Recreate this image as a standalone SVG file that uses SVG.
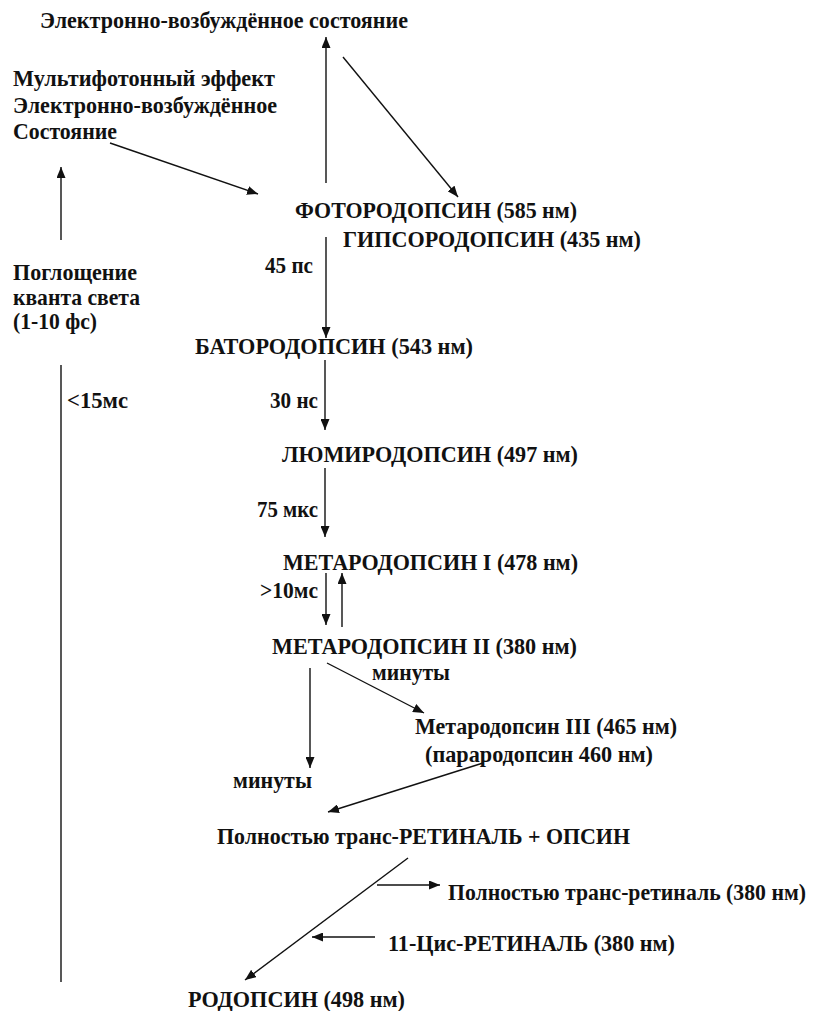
<svg xmlns="http://www.w3.org/2000/svg" width="814" height="1011" viewBox="0 0 814 1011">
<style>
text{font-weight:bold;font-size:23px;fill:#111}
.c line{stroke:#111;stroke-width:1.4;fill:none}
.a{marker-end:url(#ah)}
</style>
<defs>
<marker id="ah" markerUnits="userSpaceOnUse" markerWidth="11" markerHeight="9" refX="11" refY="4.5" orient="auto">
<path d="M0,0 L11,4.5 L0,9 Z" fill="#111"/>
</marker>
</defs>
<rect width="814" height="1011" fill="#fff"/>
<g id="connectors" class="c">
<line class="a" x1="326" y1="183" x2="326" y2="37"/>
<line class="a" x1="343" y1="57" x2="458" y2="197"/>
<line class="a" x1="110" y1="143" x2="258" y2="194"/>
<line class="a" x1="61" y1="240" x2="61" y2="167"/>
<line x1="61" y1="365" x2="61" y2="982"/>
<line class="a" x1="326" y1="237" x2="326" y2="338"/>
<line class="a" x1="325" y1="360" x2="325" y2="430"/>
<line class="a" x1="325" y1="468" x2="325" y2="537"/>
<line class="a" x1="326" y1="573" x2="326" y2="625"/>
<line class="a" x1="342" y1="627" x2="342" y2="573"/>
<line class="a" x1="310" y1="668" x2="310" y2="768"/>
<line class="a" x1="327" y1="663" x2="424" y2="713"/>
<line class="a" x1="483" y1="763" x2="328" y2="812"/>
<line class="a" x1="408" y1="858" x2="245" y2="980"/>
<line class="a" x1="377" y1="885" x2="440" y2="885"/>
<line class="a" x1="375" y1="937" x2="312" y2="937"/>
</g>
<g font-family="'Liberation Serif', 'Times New Roman', 'DejaVu Serif', serif">
<g id="excited"><text x="40" y="28" textLength="368" lengthAdjust="spacingAndGlyphs">Электронно-возбуждённое состояние</text></g>
<g id="multiphoton">
<text x="13" y="86" textLength="262" lengthAdjust="spacingAndGlyphs">Мультифотонный эффект</text>
<text x="13" y="113" textLength="264" lengthAdjust="spacingAndGlyphs">Электронно-возбуждённое</text>
<text x="13" y="139" textLength="104" lengthAdjust="spacingAndGlyphs">Состояние</text>
</g>
<g id="absorption">
<text x="13" y="280" textLength="124" lengthAdjust="spacingAndGlyphs">Поглощение</text>
<text x="13" y="305" textLength="127" lengthAdjust="spacingAndGlyphs">кванта света</text>
<text x="13" y="329" textLength="84" lengthAdjust="spacingAndGlyphs">(1-10 фс)</text>
</g>
<g id="photorhodopsin"><text x="295" y="218" textLength="282" lengthAdjust="spacingAndGlyphs">ФОТОРОДОПСИН (585 нм)</text></g>
<g id="hypsorhodopsin"><text x="343" y="247" textLength="298" lengthAdjust="spacingAndGlyphs">ГИПСОРОДОПСИН (435 нм)</text></g>
<g id="t45"><text x="265" y="273" textLength="48" lengthAdjust="spacingAndGlyphs">45 пс</text></g>
<g id="bathorhodopsin"><text x="195" y="354" textLength="278" lengthAdjust="spacingAndGlyphs">БАТОРОДОПСИН (543 нм)</text></g>
<g id="t15"><text x="67" y="408" textLength="61" lengthAdjust="spacingAndGlyphs">&lt;15мс</text></g>
<g id="t30"><text x="270" y="408" textLength="48" lengthAdjust="spacingAndGlyphs">30 нс</text></g>
<g id="lumirhodopsin"><text x="282" y="462" textLength="296" lengthAdjust="spacingAndGlyphs">ЛЮМИРОДОПСИН (497 нм)</text></g>
<g id="t75"><text x="257" y="517" textLength="61" lengthAdjust="spacingAndGlyphs">75 мкс</text></g>
<g id="meta1"><text x="283" y="570" textLength="295" lengthAdjust="spacingAndGlyphs">МЕТАРОДОПСИН I (478 нм)</text></g>
<g id="t10"><text x="260" y="598" textLength="58" lengthAdjust="spacingAndGlyphs">&gt;10мс</text></g>
<g id="meta2"><text x="272" y="654" textLength="305" lengthAdjust="spacingAndGlyphs">МЕТАРОДОПСИН II (380 нм)</text></g>
<g id="minutes1"><text x="372" y="680" textLength="78" lengthAdjust="spacingAndGlyphs">минуты</text></g>
<g id="meta3">
<text x="415" y="734" textLength="262" lengthAdjust="spacingAndGlyphs">Метародопсин III (465 нм)</text>
<text x="425" y="762" textLength="228" lengthAdjust="spacingAndGlyphs">(парародопсин 460 нм)</text>
</g>
<g id="minutes2"><text x="233" y="788" textLength="79" lengthAdjust="spacingAndGlyphs">минуты</text></g>
<g id="retinal-opsin"><text x="217" y="844" textLength="413" lengthAdjust="spacingAndGlyphs">Полностью транс-РЕТИНАЛЬ + ОПСИН</text></g>
<g id="trans-retinal"><text x="448" y="900" textLength="358" lengthAdjust="spacingAndGlyphs">Полностью транс-ретиналь (380 нм)</text></g>
<g id="cis-retinal"><text x="388" y="951" textLength="287" lengthAdjust="spacingAndGlyphs">11-Цис-РЕТИНАЛЬ (380 нм)</text></g>
<g id="rhodopsin"><text x="188" y="1007" textLength="217" lengthAdjust="spacingAndGlyphs">РОДОПСИН (498 нм)</text></g>
</g>
</svg>
